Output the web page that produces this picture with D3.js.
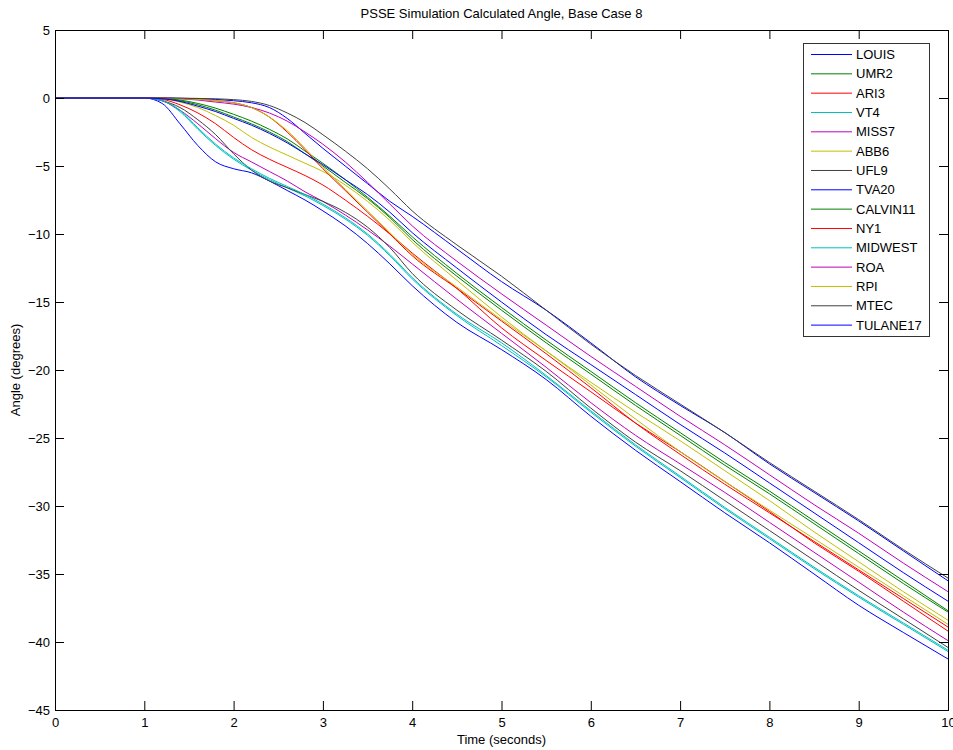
<!DOCTYPE html>
<html>
<head>
<meta charset="utf-8">
<script src="https://cdn.jsdelivr.net/npm/d3@7/dist/d3.min.js"></script>
<style>
  html, body { margin: 0; padding: 0; background: #fff; }
  svg { display: block; }
  text { font-family: "Liberation Sans", Arial, sans-serif; fill: #000; }
</style>
</head>
<body>
<svg id="chart" width="953" height="750"></svg>
<script>
// Simulation time samples (seconds)
const time = [0, 1, 1.2, 1.4, 1.6, 1.8, 2, 2.2, 2.4, 2.6, 2.8, 3, 3.25, 3.5, 3.75, 4, 4.5, 5, 5.5, 6, 6.5, 7, 7.5, 8, 8.5, 9, 9.5, 10];

// Calculated bus angle (degrees) for each unit
const LOUIS    = [0, 0, -0.4, -1.9, -3.5, -4.7, -5.2, -5.5, -6.1, -6.8, -7.5, -8.3, -9.4, -10.7, -12.2, -13.8, -16.5, -18.5, -20.7, -23.4, -25.9, -28.2, -30.5, -32.7, -35.0, -37.3, -39.3, -41.25];
const UMR2     = [0, 0, -0.05, -0.2, -0.5, -0.9, -1.4, -1.9, -2.5, -3.2, -4.1, -5.0, -6.2, -7.4, -8.8, -10.4, -13.1, -15.6, -18.0, -20.3, -22.6, -24.8, -27.0, -29.1, -31.3, -33.5, -35.7, -37.8];
const ARI3     = [0, 0, -0.1, -0.5, -1.1, -1.9, -2.9, -3.8, -4.5, -5.1, -5.7, -6.4, -7.5, -8.7, -10.0, -11.4, -14.0, -16.9, -19.3, -21.6, -23.9, -26.0, -28.2, -30.4, -32.7, -34.8, -37.0, -39.2];
const VT4      = [0, 0, -0.2, -1.0, -2.3, -3.5, -4.5, -5.3, -6.0, -6.6, -7.2, -7.9, -8.9, -10.1, -11.6, -13.3, -16.0, -18.2, -20.5, -23.1, -25.6, -27.9, -30.2, -32.4, -34.6, -36.7, -38.7, -40.7];
const MISS7    = [0, 0, -0.2, -0.9, -1.9, -3.0, -4.0, -4.7, -5.4, -6.1, -6.9, -7.6, -8.6, -9.7, -10.9, -12.2, -14.8, -17.3, -19.8, -22.4, -24.8, -26.9, -29.0, -31.2, -33.4, -35.6, -37.8, -39.9];
const ABB6     = [0, 0, -0.05, -0.3, -0.7, -1.3, -2.0, -2.9, -3.6, -4.2, -4.8, -5.4, -6.4, -7.6, -9.0, -10.6, -13.4, -16.1, -18.6, -20.9, -23.1, -25.2, -27.4, -29.6, -31.9, -34.1, -36.3, -38.4];
const UFL9     = [0, 0, -0.2, -0.7, -1.6, -2.7, -4.1, -5.3, -6.1, -6.6, -7.1, -7.6, -8.4, -9.5, -11.0, -12.9, -15.6, -17.8, -20.1, -22.8, -25.3, -27.4, -29.6, -31.8, -34.0, -36.2, -38.3, -40.4];
const TVA20    = [0, 0, 0, -0.02, -0.05, -0.1, -0.2, -0.35, -0.7, -1.5, -2.6, -3.7, -5.0, -6.3, -7.6, -8.7, -11.1, -13.5, -15.6, -18.0, -20.5, -22.6, -24.6, -26.9, -29.0, -31.1, -33.3, -35.5];
const CALVIN11 = [0, 0, -0.03, -0.15, -0.4, -0.75, -1.2, -1.7, -2.3, -3.0, -3.9, -4.8, -6.0, -7.3, -8.7, -10.2, -12.9, -15.4, -17.8, -20.1, -22.4, -24.6, -26.8, -28.9, -31.1, -33.3, -35.5, -37.7];
const NY1      = [0, 0, 0, -0.05, -0.1, -0.2, -0.35, -0.7, -1.4, -2.5, -3.8, -5.2, -6.8, -8.4, -10.0, -11.6, -14.0, -16.4, -18.8, -21.3, -23.9, -26.2, -28.4, -30.5, -32.6, -34.7, -36.8, -38.9];
const MIDWEST  = [0, 0, -0.2, -0.9, -2.2, -3.4, -4.4, -5.2, -5.9, -6.5, -7.1, -7.8, -8.8, -10.0, -11.5, -13.2, -15.9, -18.0, -20.4, -23.0, -25.5, -27.8, -30.1, -32.3, -34.5, -36.6, -38.6, -40.6];
const ROA      = [0, 0, 0, -0.05, -0.15, -0.3, -0.45, -0.7, -1.1, -1.7, -2.5, -3.4, -4.7, -6.2, -7.8, -9.4, -12.0, -14.4, -16.7, -19.0, -21.2, -23.4, -25.5, -27.7, -29.9, -32.0, -34.2, -36.3];
const RPI      = [0, 0, 0, -0.05, -0.1, -0.2, -0.35, -0.7, -1.4, -2.4, -3.7, -5.1, -6.7, -8.3, -9.9, -11.5, -13.9, -16.3, -18.6, -21.1, -23.6, -26.0, -28.2, -30.3, -32.4, -34.5, -36.6, -38.7];
const MTEC     = [0, 0, 0, -0.01, -0.03, -0.06, -0.12, -0.25, -0.55, -1.1, -1.8, -2.7, -3.9, -5.2, -6.7, -8.3, -10.8, -13.1, -15.6, -18.1, -20.4, -22.5, -24.6, -26.8, -28.9, -31.0, -33.2, -35.3];
const TULANE17 = [0, 0, -0.05, -0.25, -0.6, -1.0, -1.5, -2.0, -2.6, -3.3, -4.1, -4.9, -6.0, -7.1, -8.4, -9.9, -12.5, -15.0, -17.4, -19.6, -21.8, -24.0, -26.1, -28.3, -30.5, -32.7, -34.9, -37.0];

const seriesNames = ["LOUIS", "UMR2", "ARI3", "VT4", "MISS7", "ABB6", "UFL9", "TVA20", "CALVIN11", "NY1", "MIDWEST", "ROA", "RPI", "MTEC", "TULANE17"];
const seriesValues = [LOUIS, UMR2, ARI3, VT4, MISS7, ABB6, UFL9, TVA20, CALVIN11, NY1, MIDWEST, ROA, RPI, MTEC, TULANE17];

// Default line colour order, cycled through the series
const colorOrder = ["#0000ff", "#008000", "#ff0000", "#00bfbf", "#bf00bf", "#bfbf00", "#404040"];

const xTicks = [0, 1, 2, 3, 4, 5, 6, 7, 8, 9, 10];
const yTicks = [5, 0, -5, -10, -15, -20, -25, -30, -35, -40, -45];

const svg = d3.select("#chart");
const plot = { left: 55, right: 948, top: 30, bottom: 710 };

const x = d3.scaleLinear().domain([0, 10]).range([plot.left, plot.right]);
const y = d3.scaleLinear().domain([-45, 5]).range([plot.bottom, plot.top]);

const tickLen = 9;

// Data lines, clipped to the axes box
svg.append("clipPath").attr("id", "clip")
  .append("rect")
  .attr("x", plot.left).attr("y", plot.top)
  .attr("width", plot.right - plot.left).attr("height", plot.bottom - plot.top);

const line = d3.line()
  .x((d, i) => x(time[i]))
  .y(d => y(d))
  .curve(d3.curveMonotoneX);

const lines = svg.append("g").attr("clip-path", "url(#clip)");
seriesValues.forEach((vals, i) => {
  lines.append("path")
    .attr("d", line(vals))
    .attr("fill", "none")
    .attr("stroke", colorOrder[i % colorOrder.length])
    .attr("stroke-width", 1);
});

// Axes with inward ticks on all four sides
function styleAxis(g) {
  g.select(".domain").remove();
  g.selectAll(".tick line").attr("stroke", "#000");
  g.selectAll(".tick text").attr("font-size", 13).attr("fill", "#000")
    .style("font-family", "'Liberation Sans', Arial, sans-serif");
}

svg.append("g")
  .attr("transform", `translate(0,${plot.bottom})`)
  .call(d3.axisBottom(x).tickValues(xTicks).tickFormat(d3.format("d"))
    .tickSizeInner(-tickLen).tickSizeOuter(0).tickPadding(8))
  .call(styleAxis);

svg.append("g")
  .attr("transform", `translate(0,${plot.top})`)
  .call(d3.axisTop(x).tickValues(xTicks).tickFormat("")
    .tickSizeInner(-tickLen).tickSizeOuter(0))
  .call(styleAxis);

svg.append("g")
  .attr("transform", `translate(${plot.left},0)`)
  .call(d3.axisLeft(y).tickValues(yTicks).tickFormat(d3.format("d"))
    .tickSizeInner(-tickLen).tickSizeOuter(0).tickPadding(5))
  .call(styleAxis);

svg.append("g")
  .attr("transform", `translate(${plot.right},0)`)
  .call(d3.axisRight(y).tickValues(yTicks).tickFormat("")
    .tickSizeInner(-tickLen).tickSizeOuter(0))
  .call(styleAxis);

// Axes box
svg.append("rect")
  .attr("x", plot.left + 0.5).attr("y", plot.top + 0.5)
  .attr("width", plot.right - plot.left).attr("height", plot.bottom - plot.top)
  .attr("fill", "none").attr("stroke", "#000").attr("stroke-width", 1);

// Title and axis labels
svg.append("text")
  .attr("x", (plot.left + plot.right) / 2).attr("y", 18)
  .attr("text-anchor", "middle").attr("font-size", 13)
  .text("PSSE Simulation Calculated Angle, Base Case 8");

svg.append("text")
  .attr("x", (plot.left + plot.right) / 2).attr("y", 744)
  .attr("text-anchor", "middle").attr("font-size", 13)
  .text("Time (seconds)");

svg.append("text")
  .attr("transform", `translate(20,${(plot.top + plot.bottom) / 2}) rotate(-90)`)
  .attr("text-anchor", "middle").attr("font-size", 13)
  .text("Angle (degrees)");

// Legend
const legend = { x: 803, y: 43, w: 126, h: 293, rowStart: 54.5, rowGap: 19.33 };
const lg = svg.append("g");
lg.append("rect")
  .attr("x", legend.x + 0.5).attr("y", legend.y + 0.5)
  .attr("width", legend.w).attr("height", legend.h)
  .attr("fill", "#fff").attr("stroke", "#333").attr("stroke-width", 1);

seriesNames.forEach((name, i) => {
  const ry = legend.rowStart + i * legend.rowGap;
  lg.append("line")
    .attr("x1", 811).attr("x2", 852)
    .attr("y1", ry).attr("y2", ry)
    .attr("stroke", colorOrder[i % colorOrder.length]).attr("stroke-width", 1);
  lg.append("text")
    .attr("x", 856).attr("y", ry).attr("dy", "0.35em")
    .attr("font-size", 13)
    .text(name);
});
</script>
</body>
</html>
